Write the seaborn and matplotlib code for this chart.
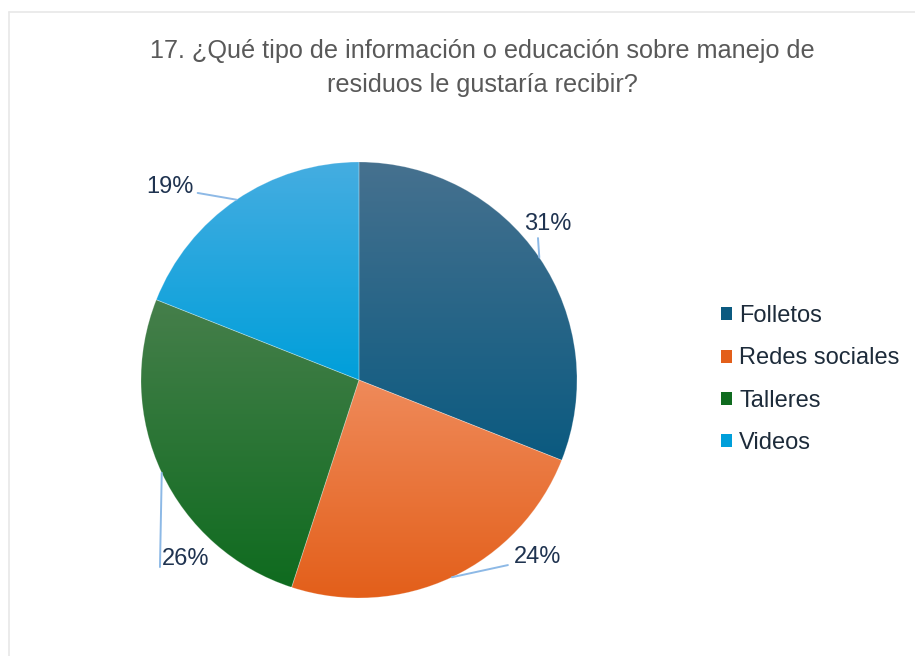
import matplotlib
matplotlib.use("Agg")
import matplotlib.pyplot as plt
import numpy as np
import seaborn as sns
from matplotlib.patches import Patch
from matplotlib.lines import Line2D
from matplotlib.colors import LinearSegmentedColormap

# Data
categories = ["Folletos", "Redes sociales", "Talleres", "Videos"]
shares = [31, 24, 26, 19]
pct_labels = ["31%", "24%", "26%", "19%"]
title = "17. ¿Qué tipo de información o educación sobre manejo de\nresiduos le gustaría recibir?"

# Styles
top_colors = ["#46718f", "#ef8a5a", "#467f4b", "#45ade1"]
base_colors = ["#0b5a80", "#e35f1a", "#0f6b1f", "#009fda"]
# label centre and leader elbow, in units of the pie radius
label_xy = [(0.867, 0.716), (0.817, -0.812), (-0.794, -0.821), (-0.867, 0.885)]
elbow_xy = [(0.821, 0.651), (0.683, -0.849), (-0.913, -0.858), (-0.74, 0.858)]

sns.set_theme(style="white")
plt.rcParams["font.family"] = ["Liberation Sans", "DejaVu Sans"]

W, H = 915, 656
fig = plt.figure(figsize=(W / 100, H / 100), dpi=100)
fig.patch.set_facecolor("white")

# faint chart-area border
fig.add_artist(Line2D([9 / W, 1], [1 - 12 / H, 1 - 12 / H], color="#e8e8e8", lw=1.2))
fig.add_artist(Line2D([9 / W, 9 / W], [0, 1 - 12 / H], color="#e8e8e8", lw=1.2))

cx, cy, r = 359, 380, 218
ax = fig.add_axes([(cx - r) / W, (H - cy - r) / H, 2 * r / W, 2 * r / H])
wedges, _ = ax.pie(shares, colors=base_colors, startangle=90, counterclock=False,
                   radius=1, wedgeprops=dict(linewidth=0.6, edgecolor=(1, 1, 1, 0.25)))

# vertical gradient fill per slice
grad = np.linspace(0, 1, 256)[:, None]
for w, c0, c1 in zip(wedges, top_colors, base_colors):
    ext = w.get_path().get_extents()
    cmap = LinearSegmentedColormap.from_list("g", [c0, c1])
    im = ax.imshow(grad, cmap=cmap, extent=(ext.x0, ext.x1, ext.y0, ext.y1),
                   origin="upper", aspect="auto", zorder=w.get_zorder() - 0.1)
    im.set_clip_path(w)
    w.set_facecolor("none")

ax.set_xlim(-1, 1)
ax.set_ylim(-1, 1)
ax.axis("off")

# percentage labels with leader lines
for w, lab, (lx, ly), (ex, ey) in zip(wedges, pct_labels, label_xy, elbow_xy):
    mid = np.deg2rad((w.theta1 + w.theta2) / 2)
    ax_, ay_ = np.cos(mid), np.sin(mid)
    ax.plot([ax_, ex], [ay_, ey], color="#8db9e6", lw=1.4, clip_on=False, zorder=5)
    ax.text(lx, ly, lab, ha="center", va="center", fontsize=17, color="#1f3350",
            clip_on=False)

fig.text(482 / W, 1 - 68 / H, title, ha="center", va="center", fontsize=18.2,
         color="#595959", linespacing=1.55)

handles = [Patch(facecolor=c, edgecolor="none") for c in base_colors]
fig.legend(handles, categories, loc="center left", bbox_to_anchor=(721 / W, 1 - 379.5 / H),
           frameon=False, fontsize=17, labelcolor="#1d2b3a", handlelength=0.47,
           handleheight=0.47, handletextpad=0.3, labelspacing=0.85,
           borderpad=0, borderaxespad=0)

fig.savefig("out.png", dpi=100)
